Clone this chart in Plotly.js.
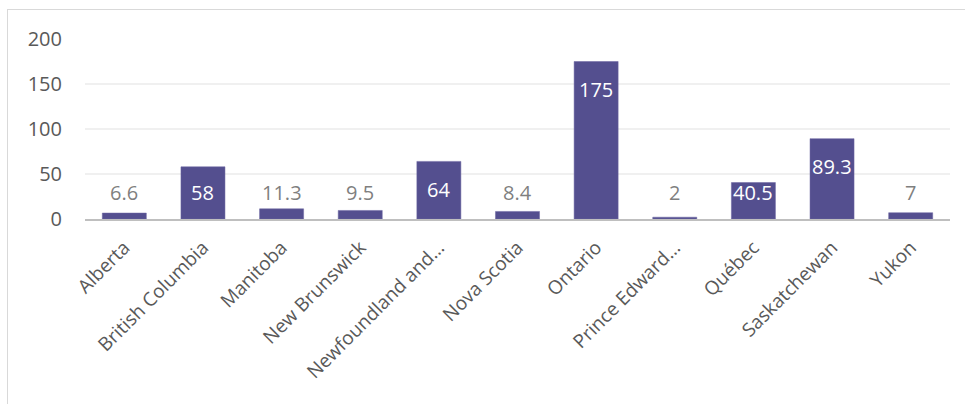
<!DOCTYPE html>
<html>
<head>
<meta charset="utf-8">
<script src="https://cdn.plot.ly/plotly-3.0.1.min.js"></script>
<style>
  html, body { margin: 0; padding: 0; background: #fff; }
  #frame { position: absolute; left: 7px; top: 9px; width: 970px; height: 420px; border: 1.5px solid #d9d9d9; box-sizing: border-box; }
  #chart { position: absolute; left: 0; top: 0; width: 965px; height: 404px; }
</style>
</head>
<body>
<div id="frame"></div>
<div id="chart"></div>
<script>
const categories = ["Alberta", "British Columbia", "Manitoba", "New Brunswick", "Newfoundland and…", "Nova Scotia", "Ontario", "Prince Edward…", "Québec", "Saskatchewan", "Yukon"];
const values = [6.6, 58, 11.3, 9.5, 64, 8.4, 175, 2, 40.5, 89.3, 7];
const labels = ["6.6", "58", "11.3", "9.5", "64", "8.4", "175", "2", "40.5", "89.3", "7"];
const yTicks = [0, 50, 100, 150, 200];

const annotations = values.map((v, i) => {
  const inside = v > 30;
  return {
    x: categories[i],
    y: inside ? Math.max(v - 31, 29) : 29,
    xref: 'x', yref: 'y',
    text: labels[i],
    showarrow: false,
    yanchor: 'middle',
    font: { family: 'Open Sans, sans-serif', size: 20, color: inside ? '#ffffff' : '#7f7f7f' }
  };
});

const trace = {
  type: 'bar',
  x: categories,
  y: values,
  marker: { color: '#544f8f', line: { color: '#6a65a0', width: 0.5 } },
  hoverinfo: 'none'
};

const layout = {
  width: 965, height: 404,
  margin: { l: 85, r: 15, t: 39, b: 185, pad: 0 },
  paper_bgcolor: 'rgba(0,0,0,0)',
  plot_bgcolor: 'rgba(0,0,0,0)',
  bargap: 0.44,
  showlegend: false,
  xaxis: {
    type: 'category',
    tickangle: -45,
    tickfont: { family: 'Open Sans, sans-serif', size: 19, color: '#595959' },
    showgrid: false,
    showline: true, linecolor: '#bfbfbf', linewidth: 2,
    ticks: '', ticklabelstandoff: 8,
    zeroline: false
  },
  yaxis: {
    range: [0, 200],
    tickvals: yTicks,
    ticktext: yTicks.map(String),
    tickfont: { family: 'Open Sans, sans-serif', size: 20, color: '#595959' },
    showgrid: true, gridcolor: '#f0f0f0', gridwidth: 1.5,
    zeroline: false, showline: false,
    ticks: '', ticklabelstandoff: 22
  },
  annotations: annotations
};

Plotly.newPlot('chart', [trace], layout, { displayModeBar: false, staticPlot: true });
</script>
</body>
</html>
